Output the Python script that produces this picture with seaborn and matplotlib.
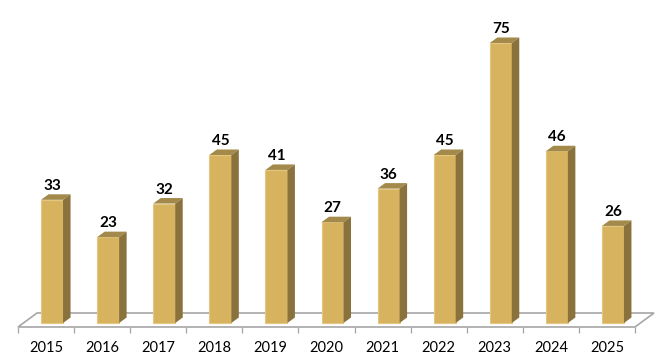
import matplotlib
matplotlib.use("Agg")
import matplotlib.pyplot as plt
import seaborn as sns
from matplotlib.patches import Polygon

years = ["2015", "2016", "2017", "2018", "2019", "2020", "2021", "2022", "2023", "2024", "2025"]
counts = [33, 23, 32, 45, 41, 27, 36, 45, 75, 46, 26]

sns.set_style("white")
plt.rcParams["font.family"] = ["Lato", "DejaVu Sans"]

W, H = 662, 361
fig = plt.figure(figsize=(W / 100, H / 100), dpi=100)
ax = fig.add_axes([18 / W, (H - 327) / H, 617 / W, 284 / H])

sns.barplot(x=years, y=counts, color="#D7B35F", saturation=1, width=22 / 56.1,
            edgecolor="#E3C67F", linewidth=0.8, zorder=3, ax=ax)

ax.set_xlim(-0.5, 10.5)
ax.set_ylim(-4 / 3.733, 75)

# pixels to data units, the fake 3d depth is done by hand
px_x = 1 / 56.1
px_y = 1 / 3.733
shift = 6 * px_x
dx, dy = 7.5 * px_x, 5.5 * px_y

# floor
y0 = ax.get_ylim()[0]
fx, fy = 19 * px_x, 14 * px_y
ax.add_patch(Polygon([(-0.5, y0), (10.5, y0), (10.5 + fx, y0 + fy), (-0.5 + fx, y0 + fy)],
                     closed=True, facecolor="white", edgecolor="#A6A6A6", linewidth=1.2,
                     clip_on=False, zorder=1))

for bar in ax.patches[:len(years)]:
    bar.set_x(bar.get_x() + shift)
    x1, x2 = bar.get_x(), bar.get_x() + bar.get_width()
    h = bar.get_height()
    # top face
    ax.add_patch(Polygon([(x1, h), (x2, h), (x2 + dx, h + dy), (x1 + dx, h + dy)],
                         closed=True, facecolor="#A38A4A", edgecolor="none",
                         clip_on=False, zorder=3))
    # side face
    ax.add_patch(Polygon([(x2, 0), (x2 + dx, dy), (x2 + dx, h + dy), (x2, h)],
                         closed=True, facecolor="#8A723C", edgecolor="none",
                         clip_on=False, zorder=3))
    ax.annotate(f"{h:.0f}", (x1 + bar.get_width() / 2, h), xytext=(0, 10),
                textcoords="offset points", ha="center", va="center",
                fontsize=11, fontweight="bold", color="black", zorder=5)

sns.despine(ax=ax, left=True, bottom=True, top=True, right=True)
ax.set_yticks([])
ax.set_xlabel("")
ax.set_xticks([i - 0.5 for i in range(12)], minor=True)
ax.tick_params(axis="x", which="minor", length=4.3, width=0.9, color="#A6A6A6", bottom=True)
ax.tick_params(axis="x", which="major", length=0, pad=10, labelsize=10.5, labelcolor="black")

fig.savefig("out.png", dpi=100, facecolor="white")
